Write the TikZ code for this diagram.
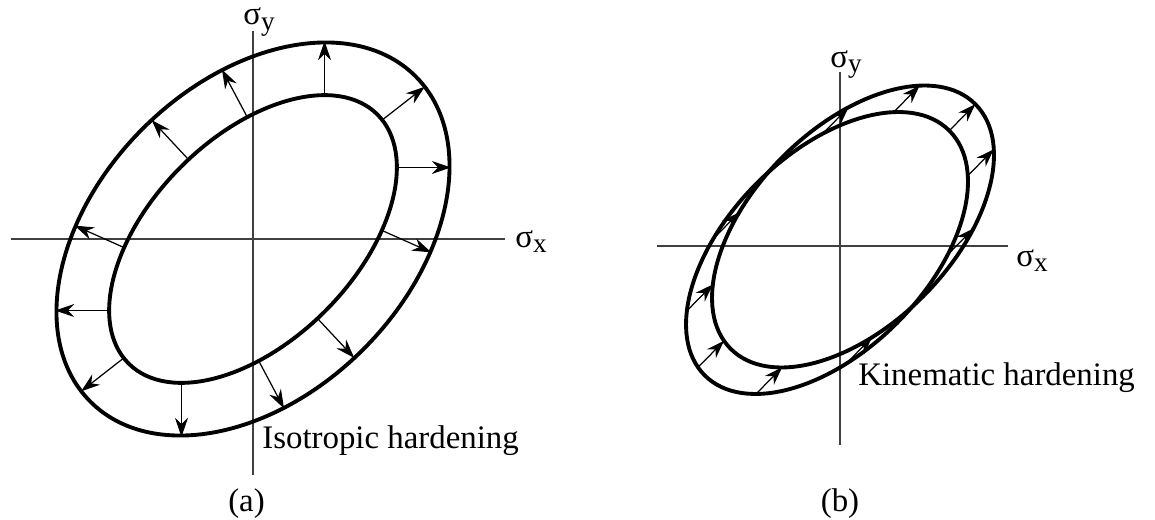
\documentclass[tikz,border=0pt]{standalone}
\usepackage{fontspec}
\setmainfont{Liberation Serif}
\usepackage{tikz}
\usetikzlibrary{arrows.meta,calc}
\newcommand{\sig}[1]{σ\raisebox{-3.4pt}{\fontsize{15.5}{16}\selectfont #1}}

\begin{document}
\begin{tikzpicture}[
 surf/.style={line width=2.2pt,black},
 axis/.style={line width=0.8pt,black!75},
 isoarrow/.style={-{Stealth[length=3.8mm,width=2.6mm]},line width=0.7pt},
 kinarrow/.style={-{Stealth[length=3.6mm,width=2.5mm]},line width=0.7pt},
 lab/.style={font=\fontsize{18.7}{22}\selectfont,inner sep=0pt}
]
\useasboundingbox (0,0) rectangle (23.1,10.38);

% (a) isotropic hardening
\coordinate (oa) at (5.06,5.60);
\coordinate (axl) at (0.22,5.60);
\coordinate (axr) at (10.10,5.60);
\coordinate (ayb) at (5.06,0.88);
\coordinate (ayt) at (5.06,9.76);
\draw[axis] (axl) -- (axr);
\draw[axis] (ayb) -- (ayt);
\node[lab,anchor=base west] (sxa) at (10.30,5.44) {\sig{x}};
\node[lab,anchor=base west] (sya) at (4.86,9.88) {\sig{y}};

\draw[surf,rotate around={45:(oa)}] (oa) ellipse (3.52 and 2.04);
\draw[surf,rotate around={45:(oa)}] (oa) ellipse (4.60 and 3.12);

% normals from the inner surface, length 1.08
\foreach \p in {0,38,90,118,133,156,180,218,270,298,313,336}{
  \pgfmathsetmacro\q{\p-45}
  \pgfmathsetmacro\n{sqrt((3.52*cos(\q))^2+(2.04*sin(\q))^2)}
  \coordinate (i\p) at ($(oa)+(45:{12.39*cos(\q)/\n})+(135:{4.16*sin(\q)/\n})$);
  \coordinate (o\p) at ($(i\p)+(\p:1.08)$);
  \draw[isoarrow] (i\p) -- (o\p);
}
\node[lab,anchor=base west] (isol) at (5.24,1.42) {Isotropic hardening};
\node[lab,anchor=base] (capa) at (4.93,0.16) {(a)};

% (b) kinematic hardening
\coordinate (ob) at (16.80,5.46);
\coordinate (bxl) at (13.14,5.46);
\coordinate (bxr) at (20.16,5.46);
\coordinate (byb) at (16.80,1.48);
\coordinate (byt) at (16.80,8.94);
\draw[axis] (bxl) -- (bxr);
\draw[axis] (byb) -- (byt);
\node[lab,anchor=base west] (sxb) at (20.32,5.06) {\sig{x}};
\node[lab,anchor=base west] (syb) at (16.60,9.04) {\sig{y}};

\coordinate (e0) at (16.54,5.32);
\coordinate (e1) at ($(e0)+(0.52,0.53)$);
\draw[surf,rotate around={45:(e0)}] (e0) ellipse (3.46 and 1.98);
\draw[surf,rotate around={45:(e1)}] (e1) ellipse (3.46 and 1.98);

\foreach \t in {0,32,62,114,144,174,210,248,299,333}{
  \coordinate (s\t) at ($(e0)+(45:{3.46*cos(\t)})+(135:{1.98*sin(\t)})$);
  \coordinate (f\t) at ($(s\t)+(0.52,0.53)$);
  \draw[kinarrow] (s\t) -- (f\t);
}
\node[lab,anchor=base west] (kinl) at (17.16,2.68) {Kinematic hardening};
\node[lab,anchor=base] (capb) at (16.80,0.16) {(b)};
\end{tikzpicture}
\end{document}
